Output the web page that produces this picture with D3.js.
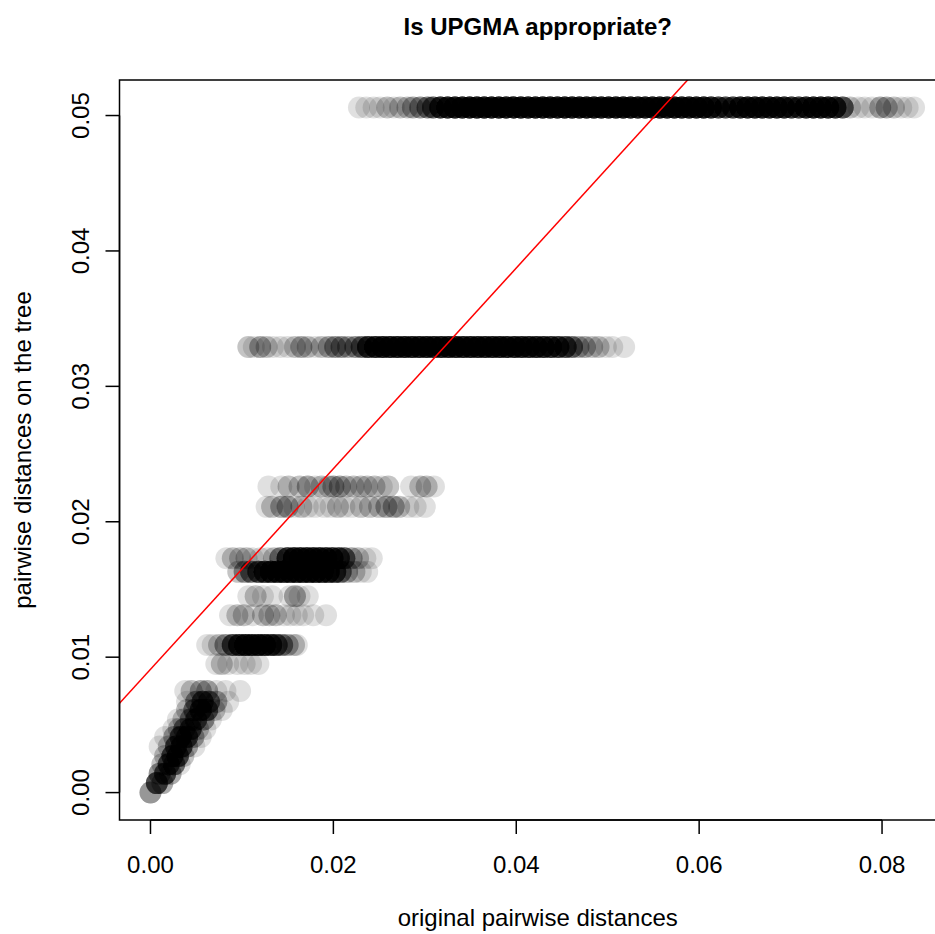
<!DOCTYPE html>
<html lang="en">
<head>
<meta charset="utf-8">
<title>Is UPGMA appropriate?</title>
<script src="https://d3js.org/d3.v7.min.js"></script>
<style>
  body { margin: 0; background: #fff; }
  text { font-family: "Liberation Sans", Arial, sans-serif; fill: #000; }
</style>
</head>
<body>
<script>
// axis ticks
var xTicks = [0, 0.02, 0.04, 0.06, 0.08];
var yTicks = [0, 0.01, 0.02, 0.03, 0.04, 0.05];

// tree distance levels, each with [original distance, number of pairs]
var band0506 = [
  [0.0228, 1], [0.0236, 1], [0.0244, 1], [0.0251, 1], [0.0259, 2], [0.0266, 1],
  [0.0273, 2], [0.0281, 2], [0.0287, 3], [0.0295, 4], [0.0303, 5], [0.0309, 7],
  [0.0317, 12], [0.0325, 14], [0.0333, 15], [0.0341, 15], [0.0349, 16], [0.0357, 16],
  [0.0365, 16], [0.0373, 16], [0.0381, 16], [0.0389, 16], [0.0397, 16], [0.0405, 16],
  [0.0413, 16], [0.0421, 16], [0.0429, 16], [0.0437, 16], [0.0445, 16], [0.0453, 16],
  [0.0461, 16], [0.0469, 16], [0.0477, 16], [0.0485, 16], [0.0493, 16], [0.0501, 16],
  [0.0509, 16], [0.0517, 16], [0.0525, 16], [0.0533, 15], [0.0541, 15], [0.0549, 15],
  [0.0557, 15], [0.0565, 15], [0.0573, 15], [0.0581, 15], [0.0589, 15], [0.0597, 15],
  [0.0605, 15], [0.0613, 13], [0.0621, 10], [0.0629, 9], [0.0637, 10], [0.0645, 13],
  [0.0653, 14], [0.0661, 14], [0.0669, 14], [0.0677, 14], [0.0685, 14], [0.0693, 13],
  [0.0701, 11], [0.0709, 10], [0.0717, 13], [0.0725, 14], [0.0733, 14], [0.0741, 14],
  [0.0749, 12], [0.0757, 8], [0.0765, 2], [0.0774, 1], [0.0781, 1], [0.0789, 1],
  [0.0798, 3], [0.0805, 3], [0.0813, 2], [0.0821, 1], [0.0828, 1], [0.0835, 1]
];
var band0329 = [
  [0.0107, 2], [0.0113, 1], [0.0120, 3], [0.0127, 2], [0.0134, 1], [0.0142, 1],
  [0.0150, 1], [0.0158, 2], [0.0165, 3], [0.0172, 2], [0.0180, 1], [0.0187, 2],
  [0.0195, 3], [0.0202, 4], [0.0209, 4], [0.0216, 3], [0.0224, 4], [0.0231, 6],
  [0.0238, 12], [0.0246, 14], [0.0254, 15], [0.0262, 15], [0.0270, 15], [0.0278, 15],
  [0.0286, 15], [0.0294, 15], [0.0302, 15], [0.0310, 15], [0.0318, 15], [0.0326, 15],
  [0.0334, 15], [0.0342, 15], [0.0350, 15], [0.0358, 15], [0.0366, 15], [0.0374, 15],
  [0.0382, 15], [0.0390, 15], [0.0398, 15], [0.0406, 14], [0.0414, 14], [0.0422, 14],
  [0.0430, 13], [0.0438, 12], [0.0446, 11], [0.0454, 9], [0.0461, 6], [0.0468, 3],
  [0.0475, 3], [0.0483, 2], [0.0490, 2], [0.0498, 1], [0.0505, 1], [0.0518, 1]
];
var band0226 = [
  [0.0129, 1], [0.0143, 1], [0.0151, 2], [0.0163, 2], [0.0172, 3], [0.0180, 1],
  [0.0187, 2], [0.0195, 2], [0.0200, 3], [0.0207, 3], [0.0214, 2], [0.0222, 2],
  [0.0230, 2], [0.0237, 2], [0.0245, 2], [0.0253, 1], [0.0260, 2], [0.0285, 1],
  [0.0295, 2], [0.0302, 2], [0.0310, 1]
];
var band0211 = [
  [0.0127, 1], [0.0133, 2], [0.0143, 3], [0.0150, 3], [0.0157, 1], [0.0165, 2],
  [0.0172, 1], [0.0180, 1], [0.0190, 1], [0.0197, 1], [0.0205, 2], [0.0212, 1],
  [0.0220, 1], [0.0230, 2], [0.0240, 2], [0.0250, 2], [0.0258, 3], [0.0266, 3],
  [0.0272, 2], [0.0282, 1], [0.0290, 1], [0.0300, 1]
];
var band0173 = [
  [0.0083, 1], [0.0090, 2], [0.0098, 2], [0.0105, 2], [0.0112, 1], [0.0120, 1],
  [0.0128, 1], [0.0135, 2], [0.0142, 5], [0.0150, 11], [0.0157, 14], [0.0164, 14],
  [0.0171, 14], [0.0178, 14], [0.0185, 14], [0.0192, 13], [0.0199, 12], [0.0206, 10],
  [0.0212, 7], [0.0220, 3], [0.0227, 2], [0.0235, 1], [0.0242, 1]
];
var band0163 = [
  [0.0096, 2], [0.0103, 4], [0.0110, 6], [0.0118, 9], [0.0125, 11], [0.0132, 12],
  [0.0139, 13], [0.0146, 14], [0.0153, 14], [0.0160, 14], [0.0167, 14], [0.0174, 14],
  [0.0181, 14], [0.0188, 13], [0.0195, 12], [0.0202, 10], [0.0208, 6], [0.0215, 3],
  [0.0223, 2], [0.0230, 1], [0.0237, 1]
];
var band0145 = [
  [0.0107, 1], [0.0115, 2], [0.0123, 1], [0.0133, 1], [0.0152, 1], [0.0158, 3],
  [0.0163, 1], [0.0172, 1]
];
var band0131 = [
  [0.0087, 1], [0.0095, 2], [0.0102, 2], [0.0112, 1], [0.0123, 2], [0.0130, 2],
  [0.0137, 2], [0.0146, 1], [0.0153, 1], [0.0160, 1], [0.0167, 1], [0.0178, 1],
  [0.0192, 1]
];
var band0109 = [
  [0.0062, 1], [0.0068, 1], [0.0075, 2], [0.0082, 4], [0.0090, 9], [0.0097, 12],
  [0.0104, 14], [0.0111, 14], [0.0118, 14], [0.0125, 13], [0.0132, 11], [0.0138, 8],
  [0.0144, 5], [0.0150, 3], [0.0157, 2], [0.0160, 1]
];
var band0095 = [
  [0.0072, 1], [0.0078, 2], [0.0085, 1], [0.0095, 1], [0.0103, 1], [0.0110, 1],
  [0.0118, 1]
];

var bands = [
  {y: 0.0506, pts: band0506},
  {y: 0.0329, pts: band0329},
  {y: 0.0226, pts: band0226},
  {y: 0.0211, pts: band0211},
  {y: 0.0173, pts: band0173},
  {y: 0.0163, pts: band0163},
  {y: 0.0145, pts: band0145},
  {y: 0.0131, pts: band0131},
  {y: 0.0109, pts: band0109},
  {y: 0.0095, pts: band0095}
];

// close pairs near the origin: [original, tree, number of pairs]
var lowCluster = [
  [0.0000, 0.0000, 4],
  [0.0007, 0.0007, 9], [0.0013, 0.0007, 3],
  [0.0010, 0.0014, 4], [0.0016, 0.0014, 8], [0.0022, 0.0014, 3],
  [0.0013, 0.0021, 2], [0.0020, 0.0021, 8], [0.0026, 0.0021, 6], [0.0032, 0.0021, 1],
  [0.0016, 0.0027, 2], [0.0024, 0.0027, 8], [0.0030, 0.0027, 8], [0.0036, 0.0027, 2],
  [0.0010, 0.0034, 1], [0.0020, 0.0034, 2], [0.0028, 0.0034, 8], [0.0034, 0.0034, 8], [0.0040, 0.0034, 3], [0.0048, 0.0034, 1],
  [0.0016, 0.0041, 1], [0.0026, 0.0041, 3], [0.0033, 0.0041, 8], [0.0040, 0.0041, 8], [0.0047, 0.0041, 3], [0.0055, 0.0041, 1],
  [0.0025, 0.0047, 1], [0.0031, 0.0047, 2], [0.0037, 0.0047, 5], [0.0044, 0.0047, 8], [0.0052, 0.0047, 2], [0.0060, 0.0047, 1],
  [0.0030, 0.0054, 1], [0.0036, 0.0054, 2], [0.0044, 0.0054, 4], [0.0050, 0.0054, 7], [0.0058, 0.0054, 4], [0.0066, 0.0054, 1],
  [0.0040, 0.0061, 2], [0.0048, 0.0061, 5], [0.0055, 0.0061, 9], [0.0062, 0.0061, 7], [0.0070, 0.0061, 2], [0.0078, 0.0061, 1],
  [0.0040, 0.0067, 1], [0.0050, 0.0067, 4], [0.0057, 0.0067, 8], [0.0064, 0.0067, 6], [0.0072, 0.0067, 3], [0.0085, 0.0067, 1],
  [0.0038, 0.0075, 1], [0.0045, 0.0075, 2], [0.0055, 0.0075, 3], [0.0062, 0.0075, 3], [0.0072, 0.0075, 1], [0.0082, 0.0075, 1], [0.0098, 0.0075, 1]
];

// red reference line (intercept, slope)
var fitLine = [0.0091, 0.741];

var width = 935, height = 934;
var plotLeft = 119.5, plotRight = 956, plotTop = 80, plotBottom = 820;

var svg = d3.select("body").append("svg")
    .attr("width", width)
    .attr("height", height);

var x = d3.scaleLinear().domain([-0.003388, 0.088088]).range([plotLeft, plotRight]);
var y = d3.scaleLinear().domain([-0.002024, 0.052624]).range([plotBottom, plotTop]);

svg.append("clipPath").attr("id", "plotArea")
  .append("rect")
    .attr("x", plotLeft).attr("y", plotTop)
    .attr("width", plotRight - plotLeft).attr("height", plotBottom - plotTop);

// expand every [x, n] into n overlapping circles
var dots = [];
bands.forEach(function(b) {
  b.pts.forEach(function(p) {
    for (var i = 0; i < p[1]; i++) dots.push([p[0], b.y]);
  });
});
lowCluster.forEach(function(p) {
  for (var i = 0; i < p[2]; i++) dots.push([p[0], p[1]]);
});

var g = svg.append("g").attr("clip-path", "url(#plotArea)");

g.selectAll("circle")
  .data(dots)
  .enter()
  .append("circle")
    .attr("cx", function(d) { return x(d[0]); })
    .attr("cy", function(d) { return y(d[1]); })
    .attr("r", 11)
    .attr("fill", "#000")
    .attr("fill-opacity", 0.12);

g.append("line")
    .attr("x1", x(x.domain()[0]))
    .attr("y1", y(fitLine[0] + fitLine[1] * x.domain()[0]))
    .attr("x2", x(x.domain()[1]))
    .attr("y2", y(fitLine[0] + fitLine[1] * x.domain()[1]))
    .attr("stroke", "#ff0000")
    .attr("stroke-width", 1.5);

// box
svg.append("rect")
    .attr("x", plotLeft).attr("y", plotTop)
    .attr("width", plotRight - plotLeft).attr("height", plotBottom - plotTop)
    .attr("fill", "none")
    .attr("stroke", "#000")
    .attr("stroke-width", 1.5);

// bottom axis
var xAxis = svg.append("g").attr("transform", "translate(0," + plotBottom + ")");
xAxis.append("line")
    .attr("x1", x(xTicks[0])).attr("x2", x(xTicks[xTicks.length - 1]))
    .attr("stroke", "#000").attr("stroke-width", 1.5);
xAxis.selectAll("line.tick")
  .data(xTicks).enter().append("line")
    .attr("class", "tick")
    .attr("x1", x).attr("x2", x)
    .attr("y1", 0).attr("y2", 14)
    .attr("stroke", "#000").attr("stroke-width", 1.5);
xAxis.selectAll("text")
  .data(xTicks).enter().append("text")
    .attr("x", x)
    .attr("y", 53)
    .attr("text-anchor", "middle")
    .style("font-size", "24px")
    .text(function(d) { return d.toFixed(2); });

// left axis
var yAxis = svg.append("g").attr("transform", "translate(" + plotLeft + ",0)");
yAxis.append("line")
    .attr("y1", y(yTicks[0])).attr("y2", y(yTicks[yTicks.length - 1]))
    .attr("stroke", "#000").attr("stroke-width", 1.5);
yAxis.selectAll("line.tick")
  .data(yTicks).enter().append("line")
    .attr("class", "tick")
    .attr("y1", y).attr("y2", y)
    .attr("x1", 0).attr("x2", -14)
    .attr("stroke", "#000").attr("stroke-width", 1.5);
yAxis.selectAll("text")
  .data(yTicks).enter().append("text")
    .attr("transform", function(d) { return "translate(-31," + y(d) + ") rotate(-90)"; })
    .attr("text-anchor", "middle")
    .style("font-size", "24px")
    .text(function(d) { return d.toFixed(2); });

// titles
svg.append("text")
    .attr("x", (plotLeft + plotRight) / 2)
    .attr("y", 35)
    .attr("text-anchor", "middle")
    .style("font-size", "24px")
    .style("font-weight", "bold")
    .text("Is UPGMA appropriate?");

svg.append("text")
    .attr("x", (plotLeft + plotRight) / 2)
    .attr("y", 926)
    .attr("text-anchor", "middle")
    .style("font-size", "24px")
    .text("original pairwise distances");

svg.append("text")
    .attr("transform", "translate(31," + (plotTop + plotBottom) / 2 + ") rotate(-90)")
    .attr("text-anchor", "middle")
    .style("font-size", "24px")
    .text("pairwise distances on the tree");
</script>
</body>
</html>
